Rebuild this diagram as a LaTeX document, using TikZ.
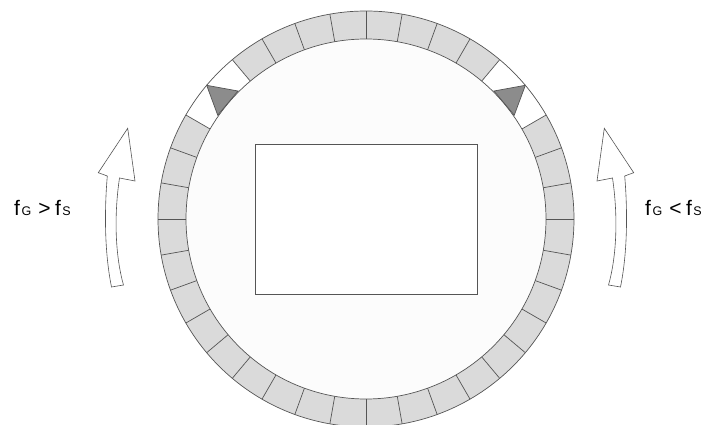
\documentclass[tikz,border=0pt]{standalone}
\usepackage{fontspec}
\setmainfont{Liberation Sans}
\definecolor{ringgray}{HTML}{DADADA}
\definecolor{linegray}{HTML}{555555}
\definecolor{trigray}{HTML}{8C8C8C}
\tikzset{
  ringline/.style={draw=linegray, line width=0.7pt},
  hollowarrow/.style={draw=linegray, fill=white, line width=0.6pt, line join=miter},
  label/.style={inner sep=0pt, anchor=base west, font=\fontsize{21}{21}\selectfont},
}
\newcommand{\sm}[1]{\hspace{1.5pt}{\fontsize{12.5}{12.5}\selectfont #1}}
\begin{document}
\begin{tikzpicture}[x=1pt,y=1pt]
\useasboundingbox (0,0) rectangle (718,424);
\fill[white] (0,0) rectangle (718,424);
\coordinate (C) at (366,205);
% ring
\fill[ringgray, even odd rule] (C) circle[radius=208pt] (C) circle[radius=180pt];
\fill[white!99!black] (C) circle[radius=180pt];
\foreach \s in {30,130}{
  \fill[white] ([shift={(\s:180pt)}]C) arc[start angle=\s, delta angle=20, radius=180pt]
    -- ([shift={(\s+20:208pt)}]C) arc[start angle=\s+20, delta angle=-20, radius=208pt] -- cycle;
}
\draw[ringline] (C) circle[radius=208pt];
\draw[ringline] (C) circle[radius=180pt];
\foreach \a in {0,10,20,30,50,60,70,80,90,100,110,120,130,150,160,170,180,190,200,210,220,230,240,250,260,270,280,290,300,310,320,330,340,350}{
  \draw[ringline] ([shift={(\a:180pt)}]C) -- ([shift={(\a:208pt)}]C);
}
% triangles
\draw[ringline, fill=trigray] ([shift={(140:208pt)}]C) -- ([shift={(135:181pt)}]C) -- ([shift={(145:181pt)}]C) -- cycle;
\draw[ringline, fill=trigray] ([shift={(40:208pt)}]C) -- ([shift={(45:181pt)}]C) -- ([shift={(35:181pt)}]C) -- cycle;
% rectangle
\draw[draw=linegray, line width=0.8pt, fill=white] (255,130) rectangle (477,280);
% arrows
\draw[hollowarrow] (127.7,295.7) -- (135,243) -- (119.5,246)
  .. controls (114,209) and (115,169) .. (123.5,139) -- (111.5,137)
  .. controls (105,169) and (104,209) .. (107.3,248) -- (98.3,251.3) -- cycle;
\draw[hollowarrow] (604.3,295.7) -- (597,243) -- (612.5,246)
  .. controls (618,209) and (617,169) .. (608.5,139) -- (620.5,137)
  .. controls (627,169) and (628,209) .. (624.7,248) -- (633.7,251.3) -- cycle;
% labels
\node[label] (lt) at (14,208.3) {f\sm{G}\hspace{7pt}>\hspace{4.5pt}f\sm{S}};
\node[label] (rt) at (645,208.3) {f\sm{G}\hspace{7pt}<\hspace{4.5pt}f\sm{S}};
\end{tikzpicture}
\end{document}
